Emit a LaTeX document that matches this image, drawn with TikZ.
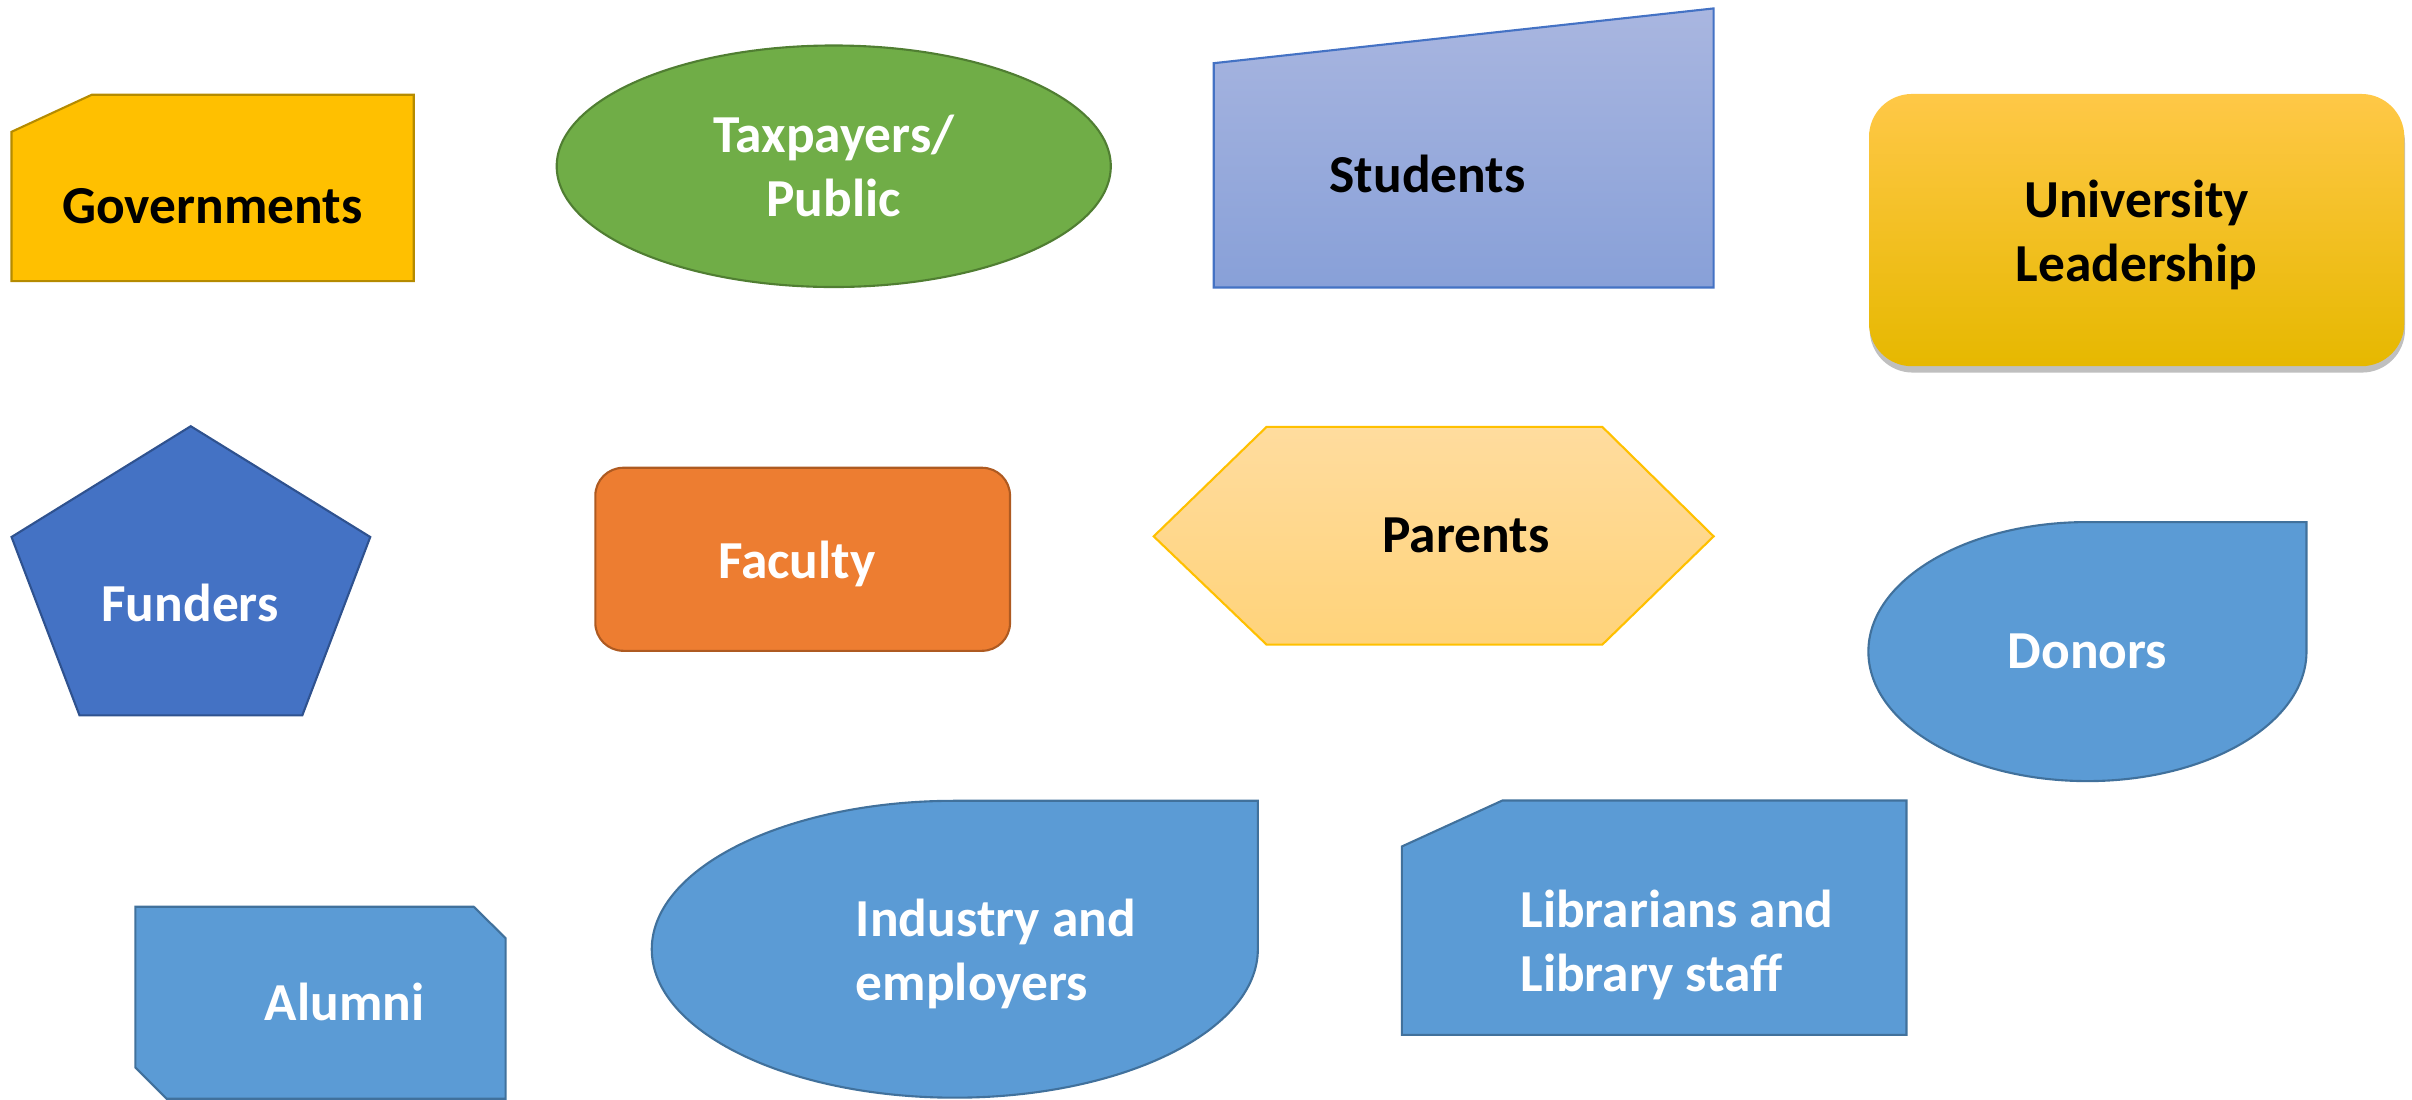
\documentclass[tikz,border=0pt]{standalone}
\usepackage{fontspec}
\setmainfont{Carlito}
\usetikzlibrary{shapes.geometric,shadows}

\definecolor{govfill}{HTML}{FFC000}
\definecolor{govline}{HTML}{B58B00}
\definecolor{taxfill}{HTML}{70AD47}
\definecolor{taxline}{HTML}{507E32}
\definecolor{studtop}{HTML}{A9B6E0}
\definecolor{studbot}{HTML}{88A0D8}
\definecolor{studline}{HTML}{4472C4}
\definecolor{leadtop}{HTML}{FFC847}
\definecolor{leadmid}{HTML}{FFC000}
\definecolor{leadbot}{HTML}{E6B800}
\definecolor{fundfill}{HTML}{4472C4}
\definecolor{fundline}{HTML}{2F528F}
\definecolor{facfill}{HTML}{ED7D31}
\definecolor{facline}{HTML}{AE5A21}
\definecolor{partop}{HTML}{FFDC9E}
\definecolor{parbot}{HTML}{FFD37A}
\definecolor{parline}{HTML}{FFC000}
\definecolor{boxblue}{HTML}{5B9BD5}
\definecolor{boxblueline}{HTML}{41719C}

\begin{document}
\begin{tikzpicture}[x=0.015383cm,y=0.015383cm,
    lbl/.style={font=\bfseries\fontsize{15.2}{18.2}\selectfont,inner sep=0pt},
    wlbl/.style={lbl,text=white},
    blk/.style={lbl,text=black},
    bluebox/.style={fill=boxblue,draw=boxblueline,line width=0.6pt}]
  \useasboundingbox (0,0) rectangle (1568,715.08);
  % top row
  \draw[fill=govfill,draw=govline,line width=0.6pt] (7.5,629.4) -- (59.7,653.5) -- (269,653.5) -- (269,532.3) -- (7.5,532.3) -- cycle;
  \node[blk,anchor=base] (gov) at (138,570) {Governments};
  \node[ellipse,fill=taxfill,draw=taxline,line width=0.6pt,minimum width=5.54cm,minimum height=2.415cm,align=center,wlbl] (tax) at (542,607) {Taxpayers/\\Public};
  \draw[top color=studtop,bottom color=studbot,draw=studline,line width=0.6pt] (789,674) -- (1114,709.6) -- (1114,528.2) -- (789,528.2) -- cycle;
  \node[blk,anchor=base] (stud) at (928,590) {Students};
  \path[rounded corners=0.43cm,top color=leadtop,middle color=leadmid,bottom color=leadbot,drop shadow={shadow xshift=0.2pt,shadow yshift=-1.8pt,opacity=0.25,fill=black}] (1215,477) rectangle (1563,654);
  \node[blk,align=center] (lead) at (1389,562.5) {University\\Leadership};
  % middle row
  \draw[fill=fundfill,draw=fundline,line width=0.6pt] (124,438) -- (240.7,366) -- (196.5,250) -- (51.7,250) -- (7.5,366) -- cycle;
  \node[wlbl,anchor=base] (fund) at (123.5,311) {Funders};
  \draw[rounded corners=0.28cm,fill=facfill,draw=facline,line width=0.6pt] (387,292) rectangle (656.6,411);
  \node[wlbl,anchor=base] (fac) at (518,339) {Faculty};
  \draw[top color=partop,bottom color=parbot,draw=parline,line width=0.6pt] (750,366.4) -- (823.4,437.6) -- (1041.6,437.6) -- (1114,366.4) -- (1041.6,296) -- (823.4,296) -- cycle;
  \node[blk,anchor=base] (par) at (953,355.7) {Parents};
  \draw[bluebox] (1499.4,375.7) -- (1499.4,291.5) arc[start angle=0,end angle=-270,x radius=142.4,y radius=84.2] -- cycle;
  \node[wlbl,anchor=base] (don) at (1357,280.2) {Donors};
  % bottom row
  \draw[bluebox] (88,125.6) -- (308,125.6) -- (328.7,105.2) -- (328.7,0.8) -- (108.4,0.8) -- (88,21.1) -- cycle;
  \node[wlbl,anchor=base] (alum) at (224,51.6) {Alumni};
  \draw[bluebox] (817.7,194.5) -- (817.7,98) arc[start angle=0,end angle=-270,x radius=197,y radius=96.5] -- cycle;
  \node[wlbl,align=left,anchor=west] (ind) at (556,95) {Industry and\\employers};
  \draw[bluebox] (911.3,164.8) -- (976.7,194.7) -- (1239.4,194.7) -- (1239.4,42.3) -- (911.3,42.3) -- cycle;
  \node[wlbl,align=left,anchor=west] (lib) at (988,101) {Librarians and\\Library staff};
\end{tikzpicture}
\end{document}
